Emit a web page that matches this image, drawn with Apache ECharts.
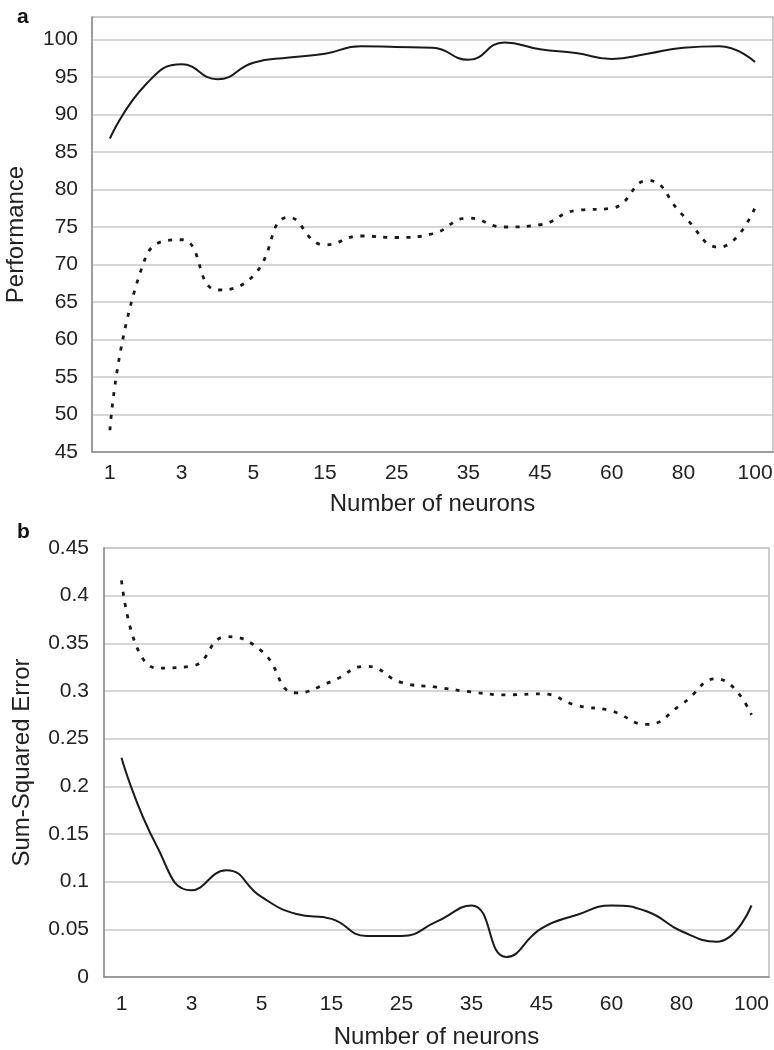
<!DOCTYPE html>
<html>
<head>
<meta charset="utf-8">
<script src="https://cdn.jsdelivr.net/npm/echarts@6/dist/echarts.min.js"></script>
<style>
  html, body { margin: 0; padding: 0; background: #fff; }
  #charts1 { width: 774px; height: 1050px; }
</style>
</head>
<body>
<div id="charts1"></div>
<script>
// datos de las dos graficas

const neuronas = ['1', '2', '3', '4', '5', '10', '15', '20', '25', '30', '35', '40', '45', '50', '60', '70', '80', '90', '100']

// panel a - performance
const perfSolida = [86.8, 94.0, 96.7, 94.7, 96.9, 97.6, 98.1, 99.1, 99.0, 98.9, 97.3, 99.6, 98.7, 98.2, 97.4, 98.1, 98.9, 99.1, 97.0]
const perfPunteada = [47.9, 71.0, 73.3, 66.6, 68.5, 76.3, 72.6, 73.8, 73.6, 74.1, 76.2, 75.0, 75.3, 77.2, 77.5, 81.2, 76.5, 72.3, 77.6]

// panel b - sum squared error
const errorSolida = [0.230, 0.138, 0.091, 0.112, 0.084, 0.066, 0.061, 0.043, 0.043, 0.058, 0.075, 0.021, 0.051, 0.065, 0.075, 0.069, 0.048, 0.037, 0.075]
const errorPunteada = [0.416, 0.324, 0.326, 0.357, 0.342, 0.298, 0.310, 0.326, 0.309, 0.304, 0.299, 0.296, 0.297, 0.285, 0.279, 0.265, 0.286, 0.313, 0.275]

const fuente = 'Liberation Sans, Arial, Helvetica, sans-serif'
const colorTexto = '#222'

const ejeX = (grid, margen, nameGap) => ({
  type: 'category',
  gridIndex: grid,
  data: neuronas,
  boundaryGap: true,
  name: 'Number of neurons',
  nameLocation: 'middle',
  nameGap: nameGap,
  nameTextStyle: { fontSize: 24, color: colorTexto, fontFamily: fuente },
  axisLine: { lineStyle: { color: '#8c8c8c', width: 1.5 } },
  axisTick: { show: false },
  axisLabel: { interval: 1, margin: margen, fontSize: 21, color: colorTexto, fontFamily: fuente },
  splitLine: { show: false }
})

const ejeY = (grid, nombre, min, max, intervalo, nameGap, margen, mostrarMax) => ({
  type: 'value',
  gridIndex: grid,
  min: min,
  max: max,
  interval: intervalo,
  name: nombre,
  nameLocation: 'middle',
  nameGap: nameGap,
  nameTextStyle: { fontSize: 24, color: colorTexto, fontFamily: fuente },
  axisLine: { show: true, lineStyle: { color: '#8c8c8c', width: 1.5 } },
  axisTick: { show: false },
  axisLabel: { showMaxLabel: mostrarMax, margin: margen, fontSize: 21, color: colorTexto, fontFamily: fuente },
  splitLine: { lineStyle: { color: '#c9c9c9', width: 1.5 } }
})

const linea = (x, y, datos, punteada) => ({
  type: 'line',
  xAxisIndex: x,
  yAxisIndex: y,
  data: datos,
  smooth: 0.5,
  symbol: 'none',
  lineStyle: punteada
    ? { color: '#1a1a1a', width: 2.8, type: [4, 7.5] }
    : { color: '#1a1a1a', width: 2 }
})

const getOptionCharts1 = () => {
  return {
    backgroundColor: '#fff',
    animation: false,
    title: [
      { text: 'a', left: 12, top: 2, textStyle: { fontSize: 21, fontWeight: 'bold', color: '#111', fontFamily: fuente } },
      { text: 'b', left: 12, top: 517, textStyle: { fontSize: 21, fontWeight: 'bold', color: '#111', fontFamily: fuente } }
    ],
    grid: [
      { left: 92, top: 17, right: 1, bottom: 598, show: true, borderColor: '#bdbdbd', borderWidth: 1.5, outerBoundsMode: 'none' },
      { left: 104, top: 548, right: 5, bottom: 73, show: true, borderColor: '#bdbdbd', borderWidth: 1.5, outerBoundsMode: 'none' }
    ],
    xAxis: [ejeX(0, 11, 40), ejeX(1, 17, 48)],
    yAxis: [
      ejeY(0, 'Performance', 45, 103, 5, 64, 14, false),
      ejeY(1, 'Sum-Squared Error', 0, 0.45, 0.05, 70, 15, true)
    ],
    series: [
      linea(0, 0, perfSolida, false),
      linea(0, 0, perfPunteada, true),
      linea(1, 1, errorPunteada, true),
      linea(1, 1, errorSolida, false)
    ]
  }
}

const iniciarCharts = () => {
  const chart1 = echarts.init(document.getElementById('charts1'))
  chart1.setOption(getOptionCharts1())
}

window.addEventListener('load', () => {
  iniciarCharts()
})
</script>
</body>
</html>
